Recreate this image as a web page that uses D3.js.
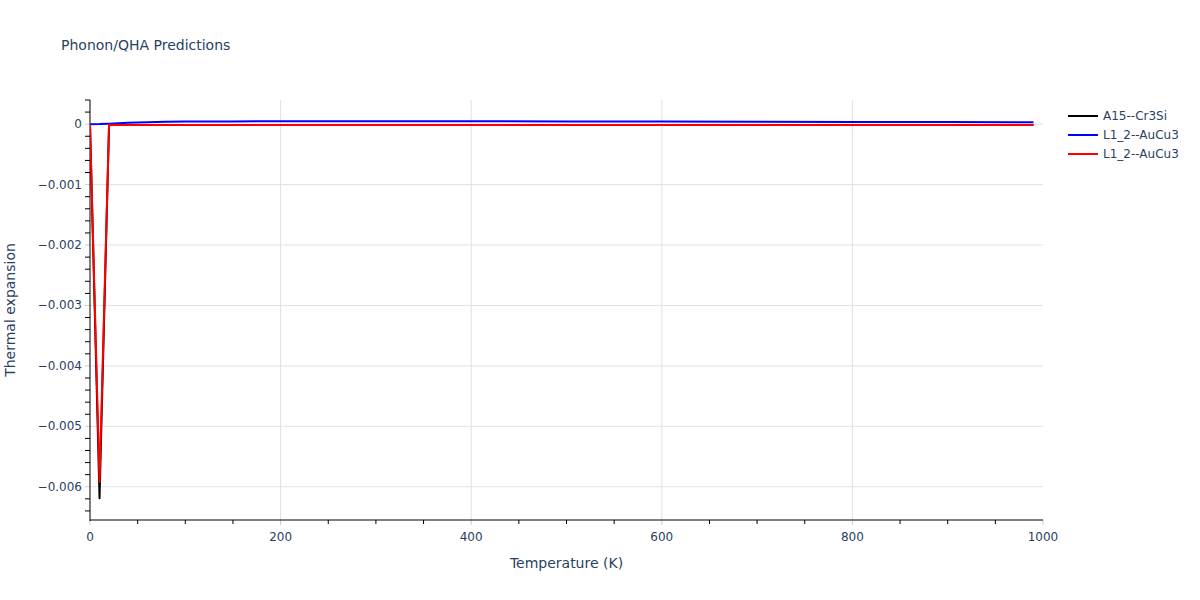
<!DOCTYPE html>
<html>
<head>
<meta charset="utf-8">
<script src="https://cdn.jsdelivr.net/npm/d3@7"></script>
<style>
  body { margin: 0; background: #fff; }
  svg { font-family: "DejaVu Sans", Verdana, sans-serif; }
</style>
</head>
<body>
<svg id="chart" width="1200" height="600"></svg>
<script>
// ---- Data ----
const seriesNames = ["A15--Cr3Si", "L1_2--AuCu3", "L1_2--AuCu3"];
const seriesColors = ["#000000", "#0000ff", "#ff0000"];

const tempA15 = [0, 10, 20, 30, 50, 100, 200, 300, 400, 500, 600, 700, 800, 900, 990];
const alphaA15 = [0, -0.00619, -0.00001, -0.000012, -0.000014, -0.000015, -0.000015, -0.000015, -0.000015, -0.000015, -0.000015, -0.000015, -0.000015, -0.000015, -0.000015];

const tempBlue = [0, 10, 20, 30, 40, 50, 60, 70, 80, 100, 150, 200, 300, 400, 500, 600, 700, 800, 900, 990];
const alphaBlue = [0, 0.000002, 0.000008, 0.000015, 0.000022, 0.000028, 0.000033, 0.000037, 0.00004, 0.000043, 0.000046, 0.000047, 0.000048, 0.000048, 0.000046, 0.000043, 0.00004, 0.000037, 0.000034, 0.000031];

const tempRed = [0, 10, 20, 30, 50, 100, 200, 300, 400, 500, 600, 700, 800, 900, 990];
const alphaRed = [0, -0.00592, -0.00001, -0.000012, -0.000014, -0.000015, -0.000015, -0.000015, -0.000015, -0.000015, -0.000015, -0.000015, -0.000015, -0.000015, -0.000015];

const xTicks = [0, 200, 400, 600, 800, 1000];
const yTicks = [0, -0.001, -0.002, -0.003, -0.004, -0.005, -0.006];

const titleText = "Phonon/QHA Predictions";
const xTitle = "Temperature (K)";
const yTitle = "Thermal expansion";

// ---- Layout ----
const svg = d3.select("#chart");
const L = 90, R = 1043, T = 100, B = 520;
const x = d3.scaleLinear().domain([0, 1000]).range([L, R]);
const y = d3.scaleLinear().domain([-0.00655, 0.0004]).range([B, T]);
const textColor = "#2a3f5f";
const gridColor = "#e1e1e1";

// gridlines
svg.append("g").selectAll("line").data(xTicks.filter(d => d > 0 && d < 1000)).join("line")
  .attr("x1", d => x(d)).attr("x2", d => x(d)).attr("y1", T).attr("y2", B)
  .attr("stroke", gridColor).attr("stroke-width", 1);
svg.append("g").selectAll("line").data(yTicks).join("line")
  .attr("x1", L).attr("x2", R).attr("y1", d => y(d)).attr("y2", d => y(d))
  .attr("stroke", gridColor).attr("stroke-width", 1);

// minor ticks
const xMinor = d3.range(50, 1000, 50).filter(d => d % 200 !== 0);
svg.append("g").selectAll("line").data(xMinor).join("line")
  .attr("x1", d => x(d)).attr("x2", d => x(d)).attr("y1", B).attr("y2", B + 4)
  .attr("stroke", "#000").attr("stroke-width", 1);
const yMinor = d3.range(-32, 3).map(i => i * 0.0002).filter(v => Math.abs(Math.round(v * 1000) - v * 1000) > 1e-6);
svg.append("g").selectAll("line").data(yMinor).join("line")
  .attr("x1", L - 5).attr("x2", L).attr("y1", d => y(d)).attr("y2", d => y(d))
  .attr("stroke", "#000").attr("stroke-width", 1);
// major ticks (light)
svg.append("g").selectAll("line").data(xTicks).join("line")
  .attr("x1", d => x(d)).attr("x2", d => x(d)).attr("y1", B).attr("y2", B + 5)
  .attr("stroke", "#cccccc").attr("stroke-width", 1);
svg.append("g").selectAll("line").data(yTicks).join("line")
  .attr("x1", L - 5).attr("x2", L).attr("y1", d => y(d)).attr("y2", d => y(d))
  .attr("stroke", "#cccccc").attr("stroke-width", 1);

// axis lines
svg.append("line").attr("x1", L).attr("x2", L).attr("y1", T).attr("y2", B + 1)
  .attr("stroke", "#000").attr("stroke-width", 1);
svg.append("line").attr("x1", L).attr("x2", R).attr("y1", B).attr("y2", B)
  .attr("stroke", "#000").attr("stroke-width", 1);

// tick labels
const fmtY = d => d === 0 ? "0" : "\u2212" + d3.format(".3f")(Math.abs(d));
svg.append("g").selectAll("text").data(xTicks).join("text")
  .attr("x", d => x(d)).attr("y", B + 21).attr("text-anchor", "middle")
  .attr("font-size", 12).attr("fill", textColor).text(d => d);
svg.append("g").selectAll("text").data(yTicks).join("text")
  .attr("x", L - 8).attr("y", d => y(d) + 4).attr("text-anchor", "end")
  .attr("font-size", 12).attr("fill", textColor).text(fmtY);

// clip
svg.append("clipPath").attr("id", "clip").append("rect")
  .attr("x", L).attr("y", T).attr("width", R - L).attr("height", B - T);

const line = d3.line().x(d => x(d[0])).y(d => y(d[1]));
const series = [
  { t: tempA15, v: alphaA15, c: seriesColors[0] },
  { t: tempBlue, v: alphaBlue, c: seriesColors[1] },
  { t: tempRed, v: alphaRed, c: seriesColors[2] }
];
const gLines = svg.append("g").attr("clip-path", "url(#clip)");
series.forEach(s => {
  gLines.append("path").datum(d3.zip(s.t, s.v)).attr("d", line)
    .attr("fill", "none").attr("stroke", s.c).attr("stroke-width", 2)
    .attr("stroke-linejoin", "round");
});

// titles
svg.append("text").attr("x", 61).attr("y", 50).attr("font-size", 14)
  .attr("fill", textColor).text(titleText);
svg.append("text").attr("x", (L + R) / 2).attr("y", 568).attr("text-anchor", "middle")
  .attr("font-size", 14).attr("fill", textColor).text(xTitle);
svg.append("text").attr("transform", `translate(15,${(T + B) / 2}) rotate(-90)`)
  .attr("text-anchor", "middle").attr("font-size", 14).attr("fill", textColor).text(yTitle);

// legend
const lg = svg.append("g");
seriesNames.forEach((n, i) => {
  const yy = 116 + i * 19;
  lg.append("line").attr("x1", 1068).attr("x2", 1098).attr("y1", yy).attr("y2", yy)
    .attr("stroke", seriesColors[i]).attr("stroke-width", 2);
  lg.append("text").attr("x", 1103).attr("y", yy + 4).attr("font-size", 12)
    .attr("fill", textColor).text(n);
});
</script>
</body>
</html>
